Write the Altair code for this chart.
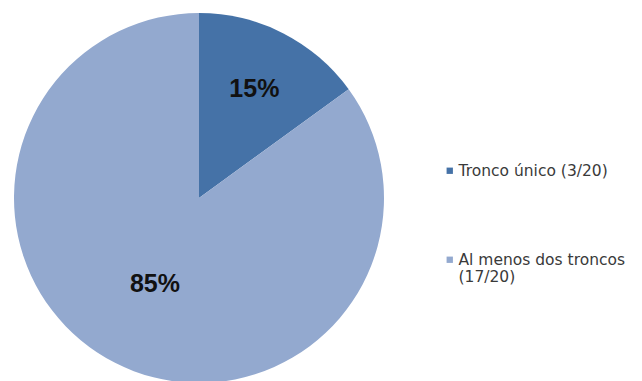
import altair as alt
import pandas as pd

categories = ["Tronco único (3/20)", "Al menos dos troncos (17/20)"]
counts = [3, 17]
percent_labels = ["15%", "85%"]
colors = ["#4572A7", "#93A9CF"]
order_idx = [0, 1]

df = pd.DataFrame({"cat": categories, "n": counts, "pct": percent_labels, "ord": order_idx})

legend = alt.Legend(
    title=None,
    orient="none",
    legendX=442,
    legendY=163,
    symbolType="square",
    symbolSize=40,
    symbolStrokeWidth=0,
    labelFont="DejaVu Sans",
    labelFontSize=15.5,
    labelColor="#3a3a3a",
    labelOffset=1,
    rowPadding=72,
    labelLimit=300,
    labelBaseline="middle",
    labelExpr="length(datum.label) > 22 ? split(replace(datum.label, ' (', '|('), '|') : datum.label",
)

base = alt.Chart(df).encode(
    theta=alt.Theta("n:Q", stack=True),
    order=alt.Order("ord:Q"),
    x=alt.value(199),
    y=alt.value(198),
)

pie = base.mark_arc(radius=185).encode(
    color=alt.Color("cat:N", scale=alt.Scale(domain=categories, range=colors), legend=legend)
)

lab1 = base.mark_text(radius=122, font="Liberation Sans", fontSize=25, fontWeight="bold", color="#111111").encode(
    text=alt.condition("datum.ord == 0", "pct:N", alt.value(""))
)
lab2 = base.mark_text(radius=97, font="Liberation Sans", fontSize=25, fontWeight="bold", color="#111111").encode(
    text=alt.condition("datum.ord == 1", "pct:N", alt.value(""))
)

chart = alt.layer(pie, lab1, lab2).properties(
    width=642, height=381, autosize=alt.AutoSizeParams(type="none"), padding=0
).configure_view(stroke=None)

chart.save("out.html", embed_options={"renderer": "svg", "actions": False})
